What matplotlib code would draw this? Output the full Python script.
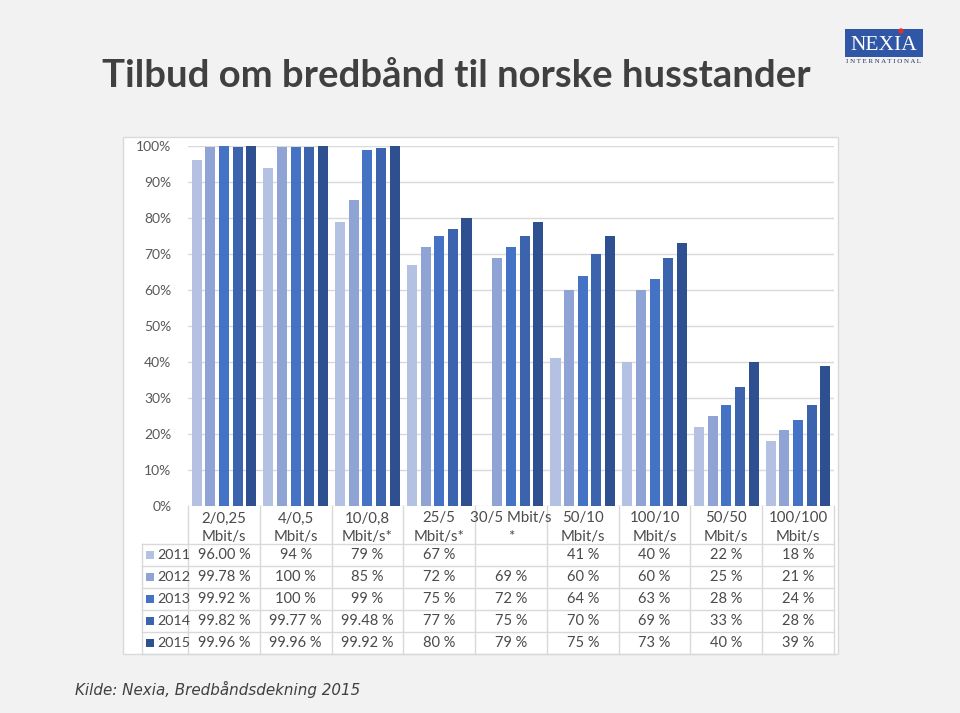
import matplotlib
matplotlib.use("Agg")
import matplotlib.pyplot as plt
from matplotlib.patches import Rectangle
import numpy as np

categories = ["2/0,25\nMbit/s", "4/0,5\nMbit/s", "10/0,8\nMbit/s*", "25/5\nMbit/s*",
              "30/5 Mbit/s\n*", "50/10\nMbit/s", "100/10\nMbit/s", "50/50\nMbit/s", "100/100\nMbit/s"]
years = ["2011", "2012", "2013", "2014", "2015"]
v2011 = [96.00, 94, 79, 67, None, 41, 40, 22, 18]
v2012 = [99.78, 99.6, 85, 72, 69, 60, 60, 25, 21]
v2013 = [99.92, 99.7, 99, 75, 72, 64, 63, 28, 24]
v2014 = [99.82, 99.77, 99.48, 77, 75, 70, 69, 33, 28]
v2015 = [99.96, 99.96, 99.92, 80, 79, 75, 73, 40, 39]
l2011 = ["96.00 %", "94 %", "79 %", "67 %", "", "41 %", "40 %", "22 %", "18 %"]
l2012 = ["99.78 %", "100 %", "85 %", "72 %", "69 %", "60 %", "60 %", "25 %", "21 %"]
l2013 = ["99.92 %", "100 %", "99 %", "75 %", "72 %", "64 %", "63 %", "28 %", "24 %"]
l2014 = ["99.82 %", "99.77 %", "99.48 %", "77 %", "75 %", "70 %", "69 %", "33 %", "28 %"]
l2015 = ["99.96 %", "99.96 %", "99.92 %", "80 %", "79 %", "75 %", "73 %", "40 %", "39 %"]
series = [v2011, v2012, v2013, v2014, v2015]
labels = [l2011, l2012, l2013, l2014, l2015]
colors = ["#B4C1E3", "#8FA3D5", "#4472C4", "#3B63AE", "#2E5090"]

W, H = 960, 713
fig = plt.figure(figsize=(W / 100, H / 100), dpi=100, facecolor="#F2F2F2")

# overlay axes in pixel coordinates
ov = fig.add_axes([0, 0, 1, 1], zorder=0)
ov.set_xlim(0, W)
ov.set_ylim(H, 0)
ov.axis("off")

# chart box
ov.add_patch(Rectangle((123, 137), 838 - 123, 654 - 137, facecolor="white",
                       edgecolor="#D9D9D9", lw=1))

L, R, TOP, BOT = 188, 834, 146, 506
ax = fig.add_axes([L / W, (H - BOT) / H, (R - L) / W, (BOT - TOP) / H], zorder=1)
ax.set_facecolor("none")
n = len(categories)
x = np.arange(n)
slot = 0.19
bw = 0.14
for k, (vals, c) in enumerate(zip(series, colors)):
    xs = [xi + (k - 2) * slot for xi, v in zip(x, vals) if v is not None]
    hs = [v for v in vals if v is not None]
    ax.bar(xs, hs, width=bw, color=c, zorder=3)
ax.set_xlim(-0.5, n - 0.5)
ax.set_ylim(0, 100)
ax.set_yticks(np.arange(0, 101, 10))
ax.set_yticklabels([f"{t}%" for t in range(0, 101, 10)], fontsize=10,
                   color="#595959", family="Lato")
ax.tick_params(axis="y", length=0, pad=12)
ax.set_xticks([])
ax.grid(axis="y", color="#D9D9D9", lw=1, zorder=0)
for s in ax.spines.values():
    s.set_visible(False)

# table
colw = (R - L) / n
row_lines = [544, 566, 588, 610, 632, 654]
lc = "#D9D9D9"
for i in range(n + 1):
    xx = L + i * colw
    ov.plot([xx, xx], [BOT, 654], color=lc, lw=1)
ov.plot([142, 142], [544, 654], color=lc, lw=1)
for yy in row_lines:
    ov.plot([142, R], [yy, yy], color=lc, lw=1)

tc = "#4A4A4A"
for i, cat in enumerate(categories):
    ov.text(L + (i + 0.5) * colw, 527.5, cat, ha="center", va="center",
            fontsize=10.8, color=tc, family="Lato", linespacing=1.38)
for r, (yr, labs, c) in enumerate(zip(years, labels, colors)):
    yc = (row_lines[r] + row_lines[r + 1]) / 2
    ov.add_patch(Rectangle((146, yc - 4), 8, 8, facecolor=c, edgecolor="none"))
    ov.text(157.5, yc, yr, ha="left", va="center", fontsize=10.3, color=tc, family="Lato")
    for i, s in enumerate(labs):
        ov.text(L + (i + 0.5) * colw, yc, s, ha="center", va="center",
                fontsize=10.5, color=tc, family="Lato")

# title
ov.text(102, 76, "Tilbud om bredbånd til norske husstander", ha="left", va="center",
        fontsize=27.5, fontweight="bold", color="#404040", family="Lato")

# footer
ov.text(75, 689, "Kilde: Nexia, Bredbåndsdekning 2015", ha="left", va="center",
        fontsize=10.9, style="italic", color="#404040", family="DejaVu Sans")

# logo
ov.add_patch(Rectangle((845, 29), 78, 28, facecolor="#2F57A6", edgecolor="none"))
ov.text(884, 45, "NEXIA", ha="center", va="center", fontsize=15.5,
        color="white", family="Liberation Serif")
ov.add_patch(plt.Circle((901, 31), 2.0, color="#E03030"))
ov.text(884, 61.5, "I N T E R N A T I O N A L", ha="center", va="center", fontsize=5,
        color="#1F2F5F", family="Liberation Serif")

fig.savefig("out.png", dpi=100, facecolor=fig.get_facecolor())
